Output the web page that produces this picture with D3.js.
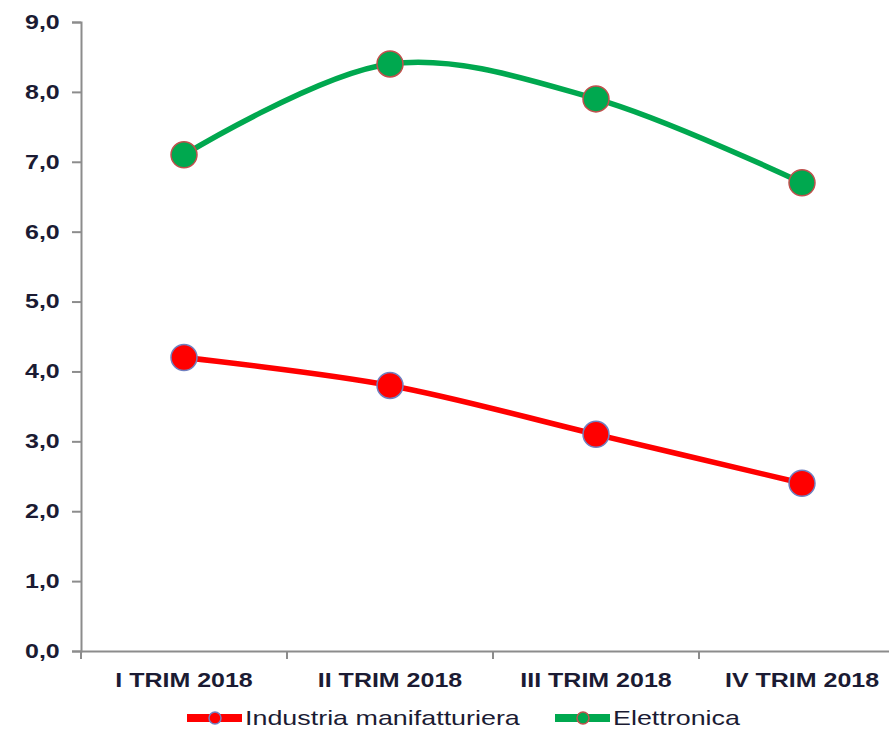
<!DOCTYPE html>
<html>
<head>
<meta charset="utf-8">
<script src="https://cdn.jsdelivr.net/npm/d3@7"></script>
<style>
  body { margin: 0; background: #fff; }
  svg { display: block; font-family: "Liberation Sans", Arial, sans-serif; }
</style>
</head>
<body>
<div id="chart"></div>
<script>
// Data
const categories = ['I TRIM 2018', 'II TRIM 2018', 'III TRIM 2018', 'IV TRIM 2018'];
const industria = [4.2, 3.8, 3.1, 2.4];
const elettronica = [7.1, 8.4, 7.9, 6.7];
const yTicks = [0, 1, 2, 3, 4, 5, 6, 7, 8, 9];
const seriesNames = ['Industria manifatturiera', 'Elettronica'];

// Visual
const width = 889;
const height = 729;
const plotLeft = 81, plotTop = 22, plotBottom = 651, plotRight = 905;
const textColor = '#1b1b33';
const axisColor = '#8c8c8c';
const stretch = 1.25; // the text in the original looks a bit wide

const series = [
  { name: seriesNames[0], values: industria, line: '#ff0000', fill: '#ff0000', stroke: '#7080c0' },
  { name: seriesNames[1], values: elettronica, line: '#00a84f', fill: '#00a84f', stroke: '#c0504d' }
];

const svg = d3.select('#chart')
  .append('svg')
  .attr('width', width)
  .attr('height', height);

const x = d3.scaleBand()
  .domain(categories)
  .range([plotLeft, plotRight]);

const y = d3.scaleLinear()
  .domain([0, 9])
  .range([plotBottom, plotTop]);

// y axis
const yAxis = svg.append('g')
  .attr('transform', `translate(${plotLeft},0)`)
  .call(d3.axisLeft(y).tickValues(yTicks).tickSize(9).tickPadding(8)
    .tickFormat(d => d3.format('.1f')(d).replace('.', ',')));
yAxis.select('.domain').attr('stroke', axisColor).attr('stroke-width', 2);
yAxis.selectAll('.tick line').attr('stroke', axisColor).attr('stroke-width', 2);
yAxis.selectAll('.tick text')
  .attr('fill', textColor)
  .attr('transform', `scale(${stretch},1)`)
  .style('font-size', '20px')
  .style('font-weight', 'bold')
  .style('font-family', '"Liberation Sans", Arial, sans-serif');

// x axis
const xAxis = svg.append('g')
  .attr('transform', `translate(0,${plotBottom})`)
  .call(d3.axisBottom(x).tickSize(0).tickPadding(22));
xAxis.select('.domain').attr('stroke', axisColor).attr('stroke-width', 2);
xAxis.selectAll('.tick text')
  .attr('fill', textColor)
  .attr('transform', `scale(${stretch},1)`)
  .style('font-size', '20px')
  .style('font-weight', 'bold')
  .style('font-family', '"Liberation Sans", Arial, sans-serif');

// category separators
svg.append('g')
  .selectAll('line')
  .data(categories)
  .enter()
  .append('line')
  .attr('x1', d => x(d))
  .attr('x2', d => x(d))
  .attr('y1', plotBottom)
  .attr('y2', plotBottom + 8)
  .attr('stroke', axisColor)
  .attr('stroke-width', 2);

// lines
const line = d3.line()
  .x((d, i) => x(categories[i]) + x.bandwidth() / 2)
  .y(d => y(d))
  .curve(d3.curveCatmullRom.alpha(0.5));

series.forEach(s => {
  svg.append('path')
    .datum(s.values)
    .attr('d', line)
    .attr('fill', 'none')
    .attr('stroke', s.line)
    .attr('stroke-width', 5.5)
    .attr('stroke-linecap', 'round');

  svg.append('g')
    .selectAll('circle')
    .data(s.values)
    .enter()
    .append('circle')
    .attr('cx', (d, i) => x(categories[i]) + x.bandwidth() / 2)
    .attr('cy', d => y(d))
    .attr('r', 13)
    .attr('fill', s.fill)
    .attr('stroke', s.stroke)
    .attr('stroke-width', 1.5);
});

// legend
const legendY = 718;
const legendItems = [
  { s: series[0], x0: 187, tx: 245 },
  { s: series[1], x0: 555, tx: 613 }
];
const legend = svg.append('g');
legendItems.forEach(it => {
  legend.append('line')
    .attr('x1', it.x0)
    .attr('x2', it.x0 + 55)
    .attr('y1', legendY)
    .attr('y2', legendY)
    .attr('stroke', it.s.line)
    .attr('stroke-width', 8);
  legend.append('circle')
    .attr('cx', it.x0 + 28)
    .attr('cy', legendY)
    .attr('r', 6)
    .attr('fill', it.s.fill)
    .attr('stroke', it.s.stroke)
    .attr('stroke-width', 1.5);
  legend.append('text')
    .attr('transform', `translate(${it.tx},${legendY}) scale(1.28,1)`)
    .attr('dy', '.35em')
    .attr('fill', textColor)
    .style('font-size', '21px')
    .text(it.s.name);
});
</script>
</body>
</html>
